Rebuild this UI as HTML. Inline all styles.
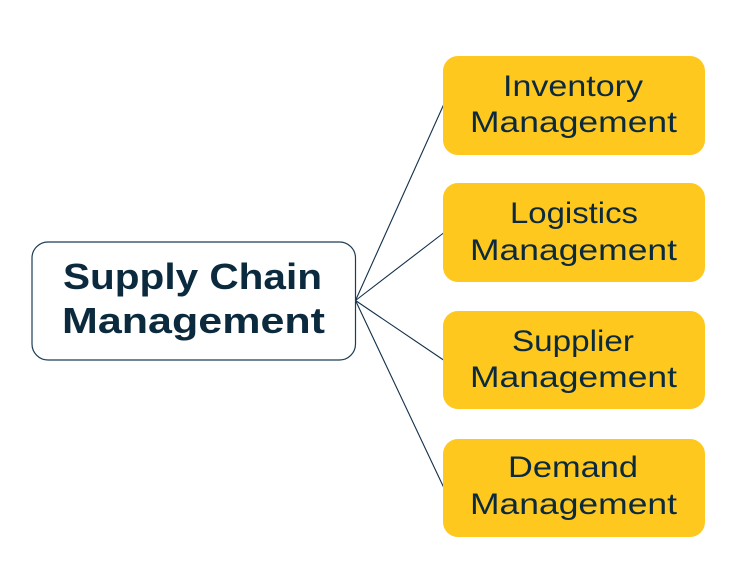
<!DOCTYPE html>
<html>
<head>
<meta charset="utf-8">
<style>
  html, body { margin: 0; padding: 0; background: #ffffff; }
  svg { display: block; }
</style>
</head>
<body>
<svg width="743" height="564" viewBox="0 0 743 564" xmlns="http://www.w3.org/2000/svg">
  <rect x="0" y="0" width="743" height="564" fill="#ffffff"/>
  <!-- connectors -->
  <g stroke="#12304a" stroke-width="1.1" fill="none">
    <line x1="355.5" y1="300.5" x2="443.5" y2="105"/>
    <line x1="355.5" y1="300.5" x2="443.5" y2="233"/>
    <line x1="355.5" y1="300.5" x2="443.5" y2="360"/>
    <line x1="355.5" y1="300.5" x2="443.5" y2="487"/>
  </g>
  <!-- central node -->
  <rect x="32" y="242" width="323.5" height="118" rx="16" ry="16" fill="#ffffff" stroke="#1c3d55" stroke-width="1.2"/>
  <g font-family="'Liberation Sans', sans-serif" font-weight="bold" font-size="36" fill="#0c2a3e">
    <text x="63" y="289" textLength="259" lengthAdjust="spacingAndGlyphs">Supply Chain</text>
    <text x="62" y="333" textLength="263" lengthAdjust="spacingAndGlyphs">Management</text>
  </g>
  <!-- yellow nodes -->
  <g fill="#fec81f">
    <rect x="443" y="56" width="262" height="99" rx="15" ry="15"/>
    <rect x="443" y="183" width="262" height="99" rx="15" ry="15"/>
    <rect x="443" y="311" width="262" height="98" rx="15" ry="15"/>
    <rect x="443" y="439" width="262" height="98" rx="15" ry="15"/>
  </g>
  <g font-family="'Liberation Sans', sans-serif" font-size="30" fill="#0c2a3e">
    <text x="503" y="96" textLength="140" lengthAdjust="spacingAndGlyphs">Inventory</text>
    <text x="470" y="132" textLength="207" lengthAdjust="spacingAndGlyphs">Management</text>

    <text x="510" y="223" textLength="128" lengthAdjust="spacingAndGlyphs">Logistics</text>
    <text x="470" y="260" textLength="207" lengthAdjust="spacingAndGlyphs">Management</text>

    <text x="512" y="351" textLength="122" lengthAdjust="spacingAndGlyphs">Supplier</text>
    <text x="470" y="387" textLength="207" lengthAdjust="spacingAndGlyphs">Management</text>

    <text x="508" y="477" textLength="130" lengthAdjust="spacingAndGlyphs">Demand</text>
    <text x="470" y="514" textLength="207" lengthAdjust="spacingAndGlyphs">Management</text>
  </g>
</svg>
</body>
</html>
